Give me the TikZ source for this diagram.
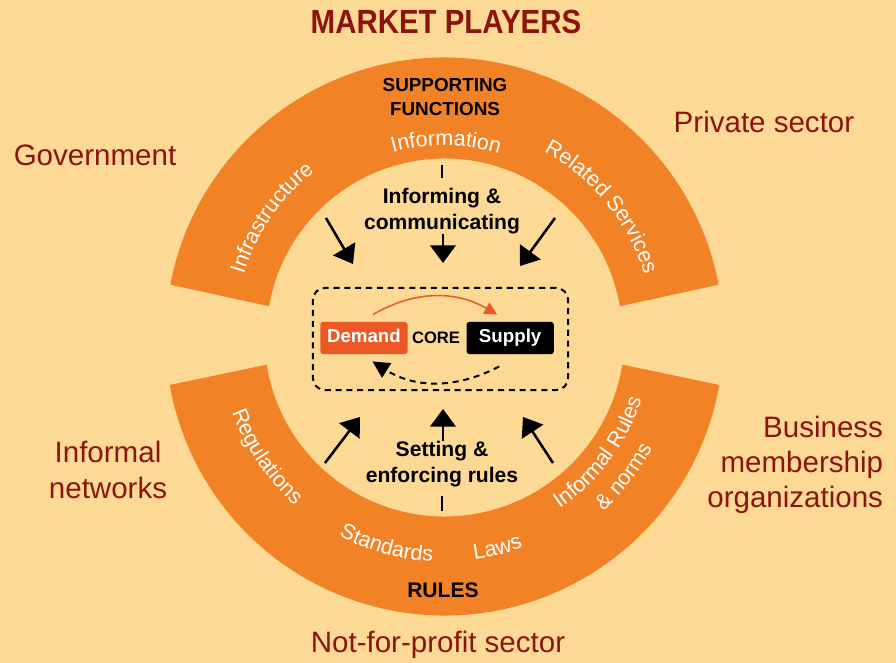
\documentclass[tikz,border=0pt]{standalone}
\usepackage{fontspec}
\setmainfont{Liberation Sans}
\newfontfamily\titlefont[FakeStretch=0.88]{Liberation Sans}
\usetikzlibrary{positioning, arrows.meta, decorations.text}

\definecolor{bgpeach}{RGB}{253,217,150}
\definecolor{ringorange}{RGB}{241,131,38}
\definecolor{playerred}{RGB}{139,21,14}
\definecolor{demandred}{RGB}{236,88,38}

\newcommand\arcfont{\fontsize{15.3}{18}\selectfont\color{white}}

\tikzset{
    player/.style={text=playerred, font=\fontsize{21}{25}\selectfont, align=center},
    ringhead/.style={font=\fontsize{13.4}{16.4}\selectfont\bfseries, align=center, inner sep=0pt},
    flowlabel/.style={font=\fontsize{15}{18.5}\selectfont\bfseries, align=center, inner sep=0pt},
    influence/.style={line width=1.8pt, -{Triangle[width=18pt,length=12.5pt]}},
    tickmark/.style={line width=1.8pt},
    corebox/.style={font=\fontsize{13.3}{15}\selectfont\bfseries, text=white, minimum width=62pt, minimum height=23pt, text height=9.6pt, text depth=2.8pt, rounded corners=2pt, inner sep=0pt},
    arctext/.style={decorate, decoration={text along path, text align=center, text={|\arcfont|#1}}}
}

\begin{document}
\begin{tikzpicture}[x=0.025cm, y=0.025cm]
    \useasboundingbox (-444.5,-326.5) rectangle (451.5,336.5);
    \fill[bgpeach] (-444.5,-326.5) rectangle (451.5,336.5);

    \fill[ringorange] (9.8:178) arc[start angle=9.8, end angle=170.2, radius=178] -- (169.3:279) arc[start angle=169.3, end angle=10.7, radius=279] -- cycle;
    \fill[ringorange] (189:180) arc[start angle=189, end angle=351, radius=180] -- (350:279) arc[start angle=350, end angle=190, radius=279] -- cycle;

    \node[text=playerred, font=\titlefont\bfseries\fontsize{23.8}{28}\selectfont] (title) at (1.5,314.5) {MARKET PLAYERS};
    \node[player] (gov) at (-349.5,181.5) {Government};
    \node[player] (private) at (319.5,214.5) {Private sector};
    \node[player] (informal) at (-336.5,-133.5) {Informal\\networks};
    \node[player, align=right, anchor=east] (business) at (443.5,-128.5) {Business\\membership\\organizations};
    \node[player] (nonprofit) at (-6.5,-308.5) {Not-for-profit sector};

    \node[ringhead] (support) at (0.5,239.5) {SUPPORTING\\FUNCTIONS};
    \node[ringhead, font=\fontsize{15}{18}\selectfont\bfseries] (rules) at (-1.5,-253.5) {RULES};

    \path[arctext=Information] (130:191) arc[start angle=130, end angle=49, radius=191];
    \path[arctext=Infrastructure] (190:210) arc[start angle=190, end angle=101, radius=210];
    \path[arctext=Related Services] (85:209.5) arc[start angle=85, end angle=-6, radius=209.5];
    \path[arctext=Regulations] (169:225.5) arc[start angle=169, end angle=259, radius=225.5];
    \path[arctext=Standards] (214.5:225.5) arc[start angle=214.5, end angle=294.5, radius=225.5];
    \path[arctext=Laws] (254:225) arc[start angle=254, end angle=314, radius=225];
    \path[arctext=Informal Rules] (278:207) arc[start angle=278, end angle=368, radius=207];
    \path[arctext={{\&} norms}] (282:236) arc[start angle=282, end angle=362, radius=236];

    \node[flowlabel] (inform) at (-2.5,125.5) {Informing \&\\communicating};
    \node[flowlabel] (setting) at (-2.5,-128) {Setting \&\\enforcing rules};

    \draw[tickmark] ([yshift=7pt]inform.north) -- ++(0,13);
    \draw[tickmark] ([yshift=-6pt]setting.south) -- ++(0,-15);

    \coordinate (topleft) at (-118.5,118.5);
    \coordinate (topleft tip) at (-91.5,72.5);
    \coordinate (topmid tip) at (-1.5,73.5);
    \coordinate (topright) at (110.5,118.5);
    \coordinate (topright tip) at (75.5,70.5);
    \coordinate (botleft) at (-119.5,-126.5);
    \coordinate (botleft tip) at (-84.5,-80.5);
    \coordinate (botmid tip) at (-1.5,-72.5);
    \coordinate (botright) at (108.5,-126.5);
    \coordinate (botright tip) at (78.5,-80.5);

    \draw[influence] (topleft) -- (topleft tip);
    \draw[influence] (inform.south -| topmid tip) -- (topmid tip);
    \draw[influence] (topright) -- (topright tip);
    \draw[influence] (botleft) -- (botleft tip);
    \draw[influence] (setting.north -| botmid tip) -- (botmid tip);
    \draw[influence] (botright) -- (botright tip);

    \node[draw, dashed, dash pattern=on 4.3pt off 3.4pt, line width=1.4pt, rounded corners=8.5pt, minimum width=181.4pt, minimum height=72.6pt] (core) at (-4,-2.5) {};
    \node[font=\fontsize{11.8}{14}\selectfont\bfseries, inner sep=0pt] (corelabel) at (-8.5,-1.5) {CORE};
    \node[corebox, fill=demandred, left=2.8pt of corelabel] (demand) {Demand};
    \node[corebox, fill=black, right=4.3pt of corelabel] (supply) {Supply};

    \draw[demandred, line width=1.1pt, -{Triangle[width=9pt,length=9pt]}] ([shift={(9,7)}]demand.north) to[bend left=30] ([shift={(-13,7)}]supply.north);
    \draw[line width=1.4pt, dash pattern=on 4.3pt off 3.4pt, -{Triangle[width=12pt,length=12pt]}] ([shift={(-11,-12)}]supply.south) to[bend left=30] ([shift={(8.5,-7)}]demand.south);
\end{tikzpicture}
\end{document}
